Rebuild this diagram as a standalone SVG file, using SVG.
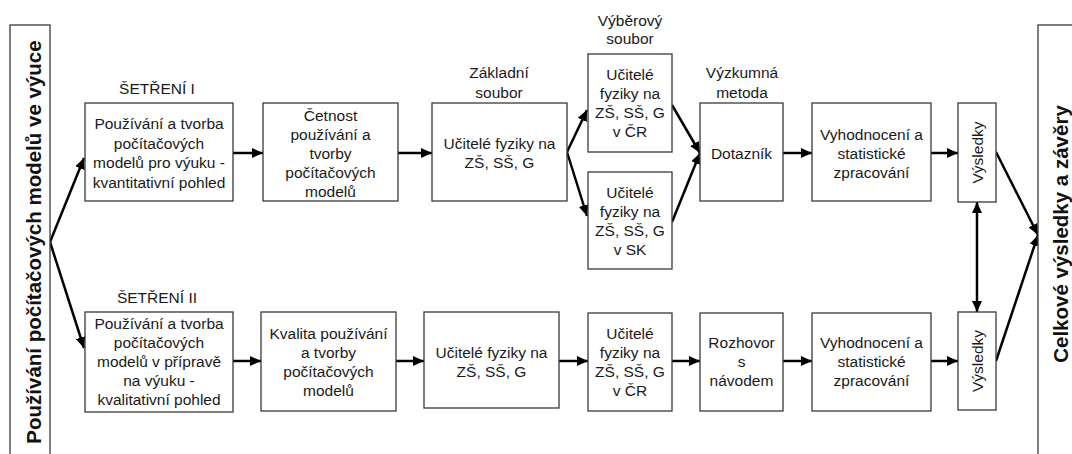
<svg xmlns="http://www.w3.org/2000/svg" width="1072" height="454" viewBox="0 0 1072 454">
<style>
  .box { fill: #ffffff; stroke: #3a3a3a; stroke-width: 1.3; }
  .t { font-family: "Liberation Sans", Arial, sans-serif; font-size: 15.5px; text-anchor: middle; fill: #1a1a1a; }
  .tb { font-family: "Liberation Sans", Arial, sans-serif; font-size: 20.5px; font-weight: bold; text-anchor: middle; fill: #111; }
  .c { fill: none; stroke: #000; stroke-width: 2.5; marker-end: url(#ah); }
  .cd { fill: none; stroke: #000; stroke-width: 2.5; marker-end: url(#ah); marker-start: url(#ah); }
</style>
<defs>
  <marker id="ah" markerWidth="12" markerHeight="10" refX="11" refY="5" orient="auto-start-reverse" markerUnits="userSpaceOnUse">
    <path d="M0,0 L11,5 L0,10 z" fill="#000"/>
  </marker>
</defs>
<rect width="1072" height="454" fill="#ffffff"/>

<g id="connectors">
  <line class="c" x1="50" y1="242" x2="84" y2="158"/>
  <line class="c" x1="50" y1="242" x2="84" y2="348"/>
  <line class="c" x1="233" y1="153" x2="263" y2="153"/>
  <line class="c" x1="398" y1="153" x2="432" y2="153"/>
  <line class="c" x1="567" y1="152" x2="587" y2="110"/>
  <line class="c" x1="567" y1="152" x2="587" y2="216"/>
  <line class="c" x1="672" y1="105" x2="700" y2="153"/>
  <line class="c" x1="672" y1="222" x2="700" y2="153"/>
  <line class="c" x1="783" y1="153" x2="812" y2="153"/>
  <line class="c" x1="931" y1="153" x2="958" y2="153"/>
  <line class="c" x1="996" y1="152" x2="1038" y2="235"/>
  <line class="c" x1="996" y1="361" x2="1038" y2="235"/>
  <line class="cd" x1="977" y1="202" x2="977" y2="312"/>
  <line class="c" x1="233" y1="361" x2="261" y2="361"/>
  <line class="c" x1="396" y1="361" x2="424" y2="361"/>
  <line class="c" x1="559" y1="361" x2="588" y2="361"/>
  <line class="c" x1="672" y1="361" x2="700" y2="361"/>
  <line class="c" x1="783" y1="361" x2="812" y2="361"/>
  <line class="c" x1="931" y1="361" x2="958" y2="361"/>
</g>

<g id="left-main">
  <rect class="box" x="10" y="25" width="40" height="440"/>
  <text class="tb" transform="translate(41,242) rotate(-90)">Používání počítačových modelů ve výuce</text>
</g>

<g id="right-main">
  <rect class="box" x="1038" y="25" width="50" height="440"/>
  <text class="tb" transform="translate(1068,234) rotate(-90)">Celkové výsledky a závěry</text>
</g>

<g id="label-setreni1"><text class="t" x="157" y="93.5">ŠETŘENÍ I</text></g>
<g id="label-setreni2"><text class="t" x="157" y="302.5">ŠETŘENÍ II</text></g>
<g id="label-zakladni"><text class="t" x="499" y="77.5">Základní<tspan x="499" y="97.5">soubor</tspan></text></g>
<g id="label-vyberovy"><text class="t" x="630" y="25.5">Výběrový<tspan x="630" y="44">soubor</tspan></text></g>
<g id="label-vyzkumna"><text class="t" x="742" y="77.5">Výzkumná<tspan x="742" y="97.5">metoda</tspan></text></g>

<g id="t1">
  <rect class="box" x="85" y="103" width="148" height="98"/>
  <text class="t" x="159" y="129.3">Používání a tvorba<tspan x="159" y="148.8">počítačových</tspan><tspan x="159" y="168.3">modelů pro výuku -</tspan><tspan x="159" y="187.8">kvantitativní pohled</tspan></text>
</g>
<g id="t2">
  <rect class="box" x="263" y="103" width="135" height="98"/>
  <text class="t" x="330.5" y="120.5">Četnost<tspan x="330.5" y="139.5">používání a</tspan><tspan x="330.5" y="158.5">tvorby</tspan><tspan x="330.5" y="177.5">počítačových</tspan><tspan x="330.5" y="196.5">modelů</tspan></text>
</g>
<g id="t3">
  <rect class="box" x="432" y="103" width="135" height="98"/>
  <text class="t" x="499.5" y="149">Učitelé fyziky na<tspan x="499.5" y="168">ZŠ, SŠ, G</tspan></text>
</g>
<g id="t4a">
  <rect class="box" x="588" y="54" width="84" height="98"/>
  <text class="t" x="630" y="80">Učitelé<tspan x="630" y="99">fyziky na</tspan><tspan x="630" y="118">ZŠ, SŠ, G</tspan><tspan x="630" y="137">v ČR</tspan></text>
</g>
<g id="t4b">
  <rect class="box" x="588" y="172" width="84" height="97"/>
  <text class="t" x="630" y="197.5">Učitelé<tspan x="630" y="216.5">fyziky na</tspan><tspan x="630" y="235.5">ZŠ, SŠ, G</tspan><tspan x="630" y="254.5">v SK</tspan></text>
</g>
<g id="t5">
  <rect class="box" x="700" y="103" width="83" height="98"/>
  <text class="t" x="741.5" y="158.5">Dotazník</text>
</g>
<g id="t6">
  <rect class="box" x="812" y="103" width="119" height="98"/>
  <text class="t" x="871.5" y="139.5">Vyhodnocení a<tspan x="871.5" y="158.5">statistické</tspan><tspan x="871.5" y="177.5">zpracování</tspan></text>
</g>
<g id="t7">
  <rect class="box" x="958" y="103" width="38" height="99"/>
  <text class="t" transform="translate(982.5,152.5) rotate(-90)">Výsledky</text>
</g>

<g id="b1">
  <rect class="box" x="85" y="312" width="148" height="100"/>
  <text class="t" x="159" y="329">Používání a tvorba<tspan x="159" y="348">počítačových</tspan><tspan x="159" y="367">modelů v přípravě</tspan><tspan x="159" y="386">na výuku -</tspan><tspan x="159" y="405">kvalitativní pohled</tspan></text>
</g>
<g id="b2">
  <rect class="box" x="261" y="312" width="135" height="99"/>
  <text class="t" x="328.5" y="338.5">Kvalita používání<tspan x="328.5" y="357.5">a tvorby</tspan><tspan x="328.5" y="376.5">počítačových</tspan><tspan x="328.5" y="395.5">modelů</tspan></text>
</g>
<g id="b3">
  <rect class="box" x="424" y="312" width="135" height="96"/>
  <text class="t" x="491.5" y="357.5">Učitelé fyziky na<tspan x="491.5" y="376.5">ZŠ, SŠ, G</tspan></text>
</g>
<g id="b4">
  <rect class="box" x="588" y="313" width="84" height="98"/>
  <text class="t" x="630" y="338.5">Učitelé<tspan x="630" y="357.5">fyziky na</tspan><tspan x="630" y="376.5">ZŠ, SŠ, G</tspan><tspan x="630" y="395.5">v ČR</tspan></text>
</g>
<g id="b5">
  <rect class="box" x="700" y="313" width="83" height="98"/>
  <text class="t" x="741.5" y="348">Rozhovor<tspan x="741.5" y="367">s</tspan><tspan x="741.5" y="386">návodem</tspan></text>
</g>
<g id="b6">
  <rect class="box" x="812" y="313" width="119" height="98"/>
  <text class="t" x="871.5" y="348">Vyhodnocení a<tspan x="871.5" y="367">statistické</tspan><tspan x="871.5" y="386">zpracování</tspan></text>
</g>
<g id="b7">
  <rect class="box" x="958" y="312" width="38" height="98"/>
  <text class="t" transform="translate(982.5,361) rotate(-90)">Výsledky</text>
</g>
</svg>
